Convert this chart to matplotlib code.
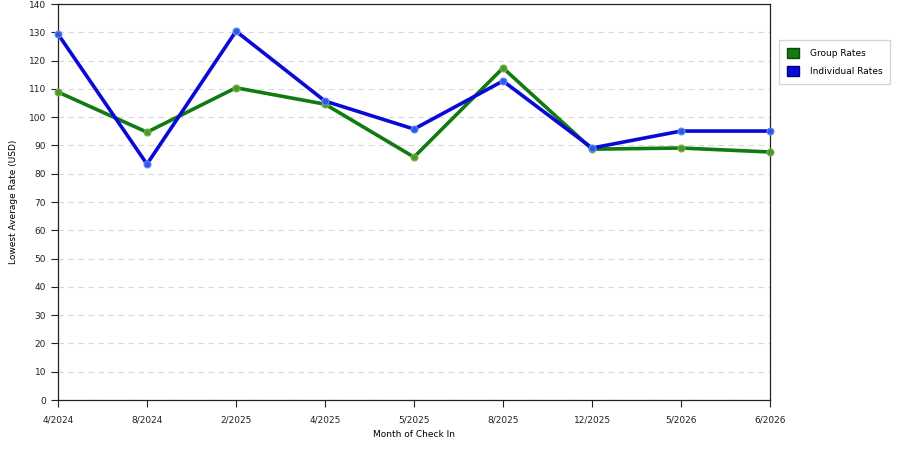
import matplotlib
matplotlib.use("Agg")
import matplotlib.pyplot as plt
from matplotlib.patches import Patch

months = ["4/2024", "8/2024", "2/2025", "4/2025", "5/2025", "8/2025", "12/2025", "5/2026", "6/2026"]
group_rates = [108.9, 94.7, 110.4, 104.6, 85.9, 117.4, 88.7, 89.1, 87.7]
individual_rates = [129.4, 83.4, 130.4, 105.7, 95.8, 112.8, 89.1, 95.1, 95.1]
y_ticks = list(range(0, 141, 10))

green = "#117a11"
blue = "#0a0ad8"

fig = plt.figure(figsize=(9, 4.5), dpi=100)
ax = fig.add_axes([0.0644, 0.111, 0.7912, 0.880])

x = list(range(len(months)))
ax.plot(x, group_rates, color=green, lw=2.6, marker="o", ms=5,
        mfc="#4a9a2a", mec="#7ab04a", mew=0.8, zorder=3, clip_on=False)
ax.plot(x, individual_rates, color=blue, lw=2.6, marker="o", ms=5,
        mfc="#2a5ae8", mec="#6a8af0", mew=0.8, zorder=4, clip_on=False)

ax.set_xlim(0, len(months) - 1)
ax.set_ylim(0, 140)
ax.set_xticks(x)
ax.set_xticklabels(months)
ax.set_yticks(y_ticks)
ax.tick_params(axis="both", labelsize=6.5, direction="out", length=5, width=0.8, colors="#222222")
ax.tick_params(axis="x", pad=6)
ax.grid(axis="y", color="#d8d8d8", linestyle=(0, (5, 4)), lw=0.8)
ax.set_axisbelow(True)
for s in ax.spines.values():
    s.set_color("#222222")
    s.set_linewidth(0.9)

ax.set_xlabel("Month of Check In", fontsize=6.5, labelpad=4)
ax.set_ylabel("Lowest Average Rate (USD)", fontsize=6.5, labelpad=8)

handles = [Patch(facecolor=green, edgecolor="#0a4a0a", label="Group Rates"),
           Patch(facecolor=blue, edgecolor="#00007a", label="Individual Rates")]
fig.legend(handles=handles, loc="upper left", bbox_to_anchor=(0.8656, 0.911),
           borderaxespad=0, fontsize=6.5, frameon=True, fancybox=False, edgecolor="#cccccc",
           handlelength=1.3, handleheight=1.3, borderpad=0.9, labelspacing=0.9,
           handletextpad=1.2)

fig.savefig("out.png", dpi=100)
